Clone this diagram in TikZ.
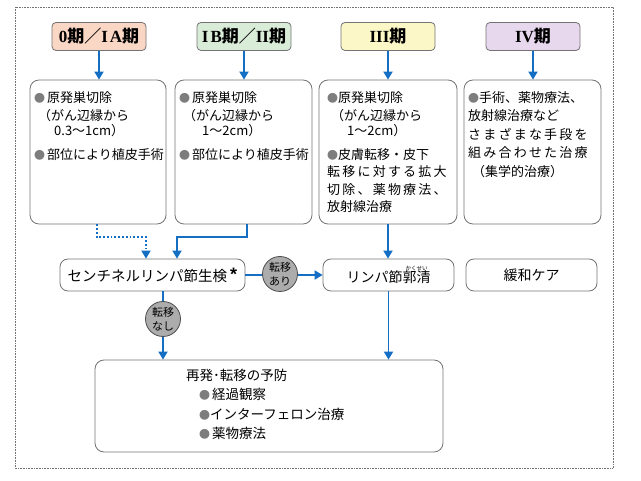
\documentclass[tikz,border=0pt]{standalone}
\usepackage{fontspec}
\setmainfont{Noto Sans CJK JP}
\newfontfamily\latser{Liberation Serif}
\newfontfamily\latsans{Liberation Sans}
\usetikzlibrary{arrows.meta}
\definecolor{cblue}{RGB}{20,110,195}
\definecolor{cgray}{RGB}{115,115,115}
\definecolor{bgray}{RGB}{125,125,125}
\definecolor{stA}{RGB}{250,214,196}
\definecolor{stB}{RGB}{216,236,216}
\definecolor{stC}{RGB}{252,247,198}
\definecolor{stD}{RGB}{232,216,238}
\definecolor{circfill}{RGB}{172,172,172}
\newcommand{\mybul}{\makebox[13pt][l]{\fontsize{11}{11}\selectfont\textcolor{bgray}{●}}}
\newcommand{\tightbul}{\makebox[11pt][l]{\fontsize{11}{11}\selectfont\textcolor{bgray}{●}}}
\newcommand{\lat}[1]{{\latser\addfontfeature{LetterSpace=12}#1}}
\newcommand{\latn}[1]{{\latser #1}}
\tikzset{
  stage/.style={draw=cgray, line width=0.8pt, rounded corners=4pt, minimum width=94pt, minimum height=28pt, inner sep=0pt, font=\fontsize{17}{17}\selectfont\bfseries},
  tbox/.style={draw=cgray, line width=0.8pt, rounded corners=9pt, minimum height=144pt, inner sep=0pt},
  sbox/.style={draw=cgray, line width=0.8pt, rounded corners=8pt, minimum height=32pt, inner sep=0pt, font=\fontsize{14}{14}\selectfont},
  txt/.style={inner sep=0pt, anchor=north west, align=left, font=\fontsize{13}{18.5}\selectfont},
  arr/.style={draw=cblue, line width=1.8pt, -{Triangle[width=9pt,length=8pt]}},
  dotarr/.style={draw=cblue, line width=1.8pt, dotted, -{Triangle[width=9pt,length=8pt]}},
  circ/.style={circle, draw=black!70, line width=0.8pt, fill=circfill, minimum size=35pt, inner sep=0pt, align=center, font=\fontsize{11}{13.5}\selectfont},
}
\begin{document}
\begin{tikzpicture}[x=1pt,y=-1pt]
\useasboundingbox (0,0) rectangle (641,481);
\draw[cgray, densely dotted, line width=0.6pt] (15,7) rectangle (613,468);

% stage boxes
\node[stage, fill=stA] (s1) at (99,36.5) {\latn{0}期／\lat{IA}期};
\node[stage, fill=stB] (s2) at (244,36.5) {\lat{IB}期／\latn{II}期};
\node[stage, fill=stC] (s3) at (388,36.5) {\latn{III}期};
\node[stage, fill=stD] (s4) at (533,36.5) {\latn{IV}期};

% treatment boxes
\node[tbox, minimum width=136pt] (b1) at (98,152) {};
\node[tbox, minimum width=137pt] (b2) at (243.5,152) {};
\node[tbox, minimum width=138pt] (b3) at (388,152) {};
\node[tbox, minimum width=137pt] (b4) at (532.5,152) {};

\node[txt] (t1) at (34,91) {\mybul 原発巣切除\\\hspace{4pt}（がん辺縁から\\[-3.5pt]\hspace{20pt}0.3〜1cm）\\[5pt]\mybul 部位により植皮手術};
\node[txt] (t2) at (179,91) {\mybul 原発巣切除\\\hspace{4pt}（がん辺縁から\\[-3.5pt]\hspace{23pt}1〜2cm）\\[5pt]\mybul 部位により植皮手術};
\node[txt] (t3) at (327,91) {\tightbul 原発巣切除\\\hspace{4pt}（がん辺縁から\\[-3.5pt]\hspace{20pt}1〜2cm）\\[5pt]\tightbul 皮膚転移・皮下\\[-1pt]{\addfontfeature{LetterSpace=17}転移に対する拡大}\\[-1pt]{\addfontfeature{LetterSpace=17}切除、薬物療法、}\\[-1pt]放射線治療};
\node[txt] (t4) at (468,91) {\tightbul 手術、薬物療法、\\放射線治療など\\{\addfontfeature{LetterSpace=17}さまざまな手段を}\\{\addfontfeature{LetterSpace=17}組み合わせた治療}\\\hspace{4pt}（集学的治療）};

% second row
\node[sbox, minimum width=185pt, font=\fontsize{14.5}{14.5}\selectfont] (sn) at (152.5,275) {センチネルリンパ節生検\hspace{3pt}\raisebox{1pt}{\latsans\bfseries\fontsize{18}{18}\selectfont *}};
\node[sbox, minimum width=131pt] (ly) at (388.5,275) {リンパ節\makebox[0pt][l]{\raisebox{11.5pt}{\makebox[28pt]{\fontsize{5.5}{5.5}\selectfont かくせい}}}郭清};
\node[sbox, minimum width=131pt] (kw) at (531.5,275) {緩和ケア};

% bottom box
\node[tbox, minimum width=348pt, minimum height=92pt] (r5) at (269,406) {};
\node[txt, font=\fontsize{13.5}{19.3}\selectfont] (t5) at (186,369) {再発･転移の予防\\\hspace{13pt}\mybul 経過観察\\\hspace{13pt}\tightbul インターフェロン治療\\\hspace{13pt}\mybul 薬物療法};

% connectors
\draw[arr] (s1.south) -- (s1.south |- b1.north);
\draw[arr] (s2.south) -- (s2.south |- b2.north);
\draw[arr] (s3.south) -- (s3.south |- b3.north);
\draw[arr] (s4.south) -- (s4.south |- b4.north);

\draw[dotarr] ([xshift=-1pt]b1.south) -- ++(0,13) -| ([xshift=-6.5pt]sn.north);
\draw[arr] ([xshift=3.5pt]b2.south) -- ++(0,13) -| ([xshift=24.5pt]sn.north);

\draw[arr] (sn.east) -- (ly.west);
\node[circ] (c1) at (280,274) {転移\\あり};

\draw[arr] ([xshift=10.5pt]sn.south) -- ([xshift=10.5pt]sn.south |- r5.north);
\node[circ] (c2) at (163,319) {転移\\なし};

\draw[arr] (b3.south) -- (b3.south |- ly.north);
\draw[arr] (ly.south) -- (ly.south |- r5.north);
\end{tikzpicture}
\end{document}
